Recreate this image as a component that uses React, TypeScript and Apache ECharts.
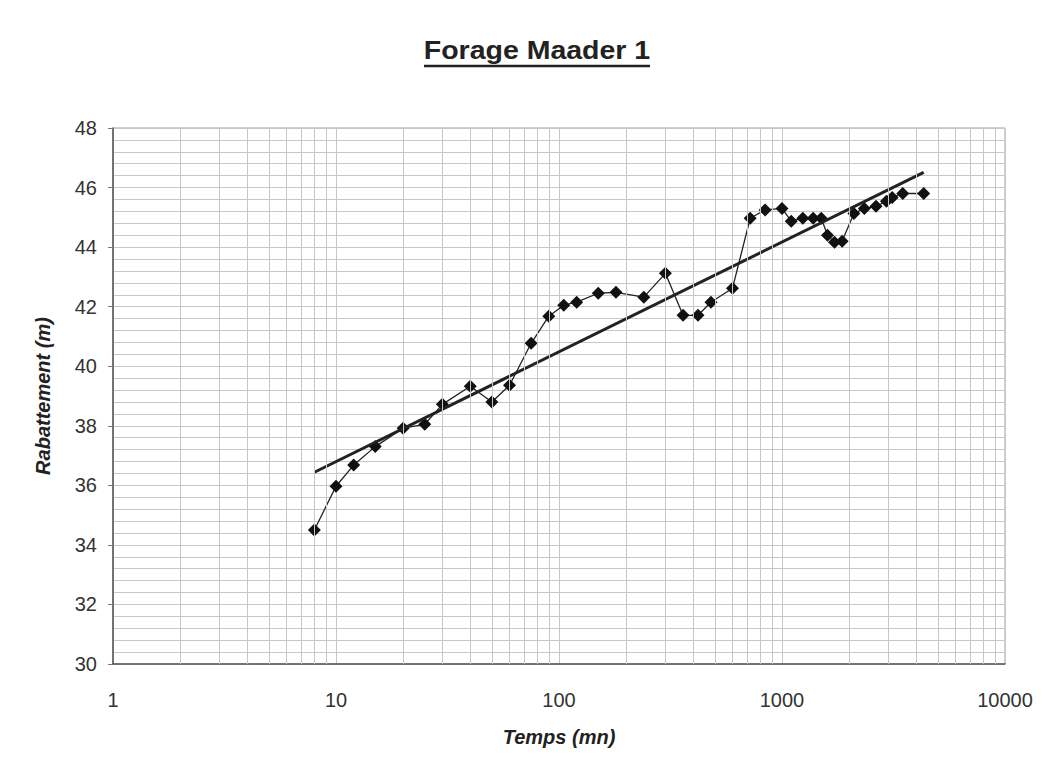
import React, { useEffect, useRef } from "react";
import * as echarts from "echarts";

const titleText = "Forage Maader 1";
const xAxisName = "Temps (mn)";
const yAxisName = "Rabattement (m)";

const times = [8, 10, 12, 15, 20, 25, 30, 40, 50, 60, 75, 90, 105, 120, 150, 180, 240, 300, 360, 420, 480, 600, 720, 840, 1000, 1100, 1240, 1380, 1500, 1600, 1720, 1860, 2100, 2340, 2640, 2940, 3120, 3480, 4320];
const drawdown = [34.5, 35.97, 36.68, 37.3, 37.92, 38.05, 38.72, 39.33, 38.8, 39.36, 40.77, 41.68, 42.05, 42.15, 42.45, 42.48, 42.32, 43.12, 41.71, 41.71, 42.15, 42.62, 44.97, 45.25, 45.3, 44.87, 44.97, 44.97, 44.97, 44.4, 44.16, 44.2, 45.13, 45.3, 45.37, 45.54, 45.67, 45.8, 45.8];

const trendTimes = [8, 4320];
const trendValues = [36.44, 46.51];

const minorXTicks = [2, 3, 4, 5, 6, 7, 8, 9, 20, 30, 40, 50, 60, 70, 80, 90, 200, 300, 400, 500, 600, 700, 800, 900, 2000, 3000, 4000, 5000, 6000, 7000, 8000, 9000];

const FONT = "'Liberation Sans', Arial, sans-serif";
const GRID_COLOR = "#c3c8cd";

export default function App() {
  const ref = useRef<HTMLDivElement>(null);
  useEffect(() => {
    document.body.style.margin = "0";
    const chart = echarts.init(ref.current!, null, { renderer: "svg" });
    chart.setOption({
      animation: false,
      backgroundColor: "#ffffff",
      grid: {
        left: 113,
        right: 47,
        top: 128,
        bottom: 111,
        show: true,
        borderColor: "#a0a0a0",
        borderWidth: 1,
      },
      graphic: [
        {
          type: "text",
          x: 537,
          y: 51,
          scaleX: 1.14,
          style: {
            text: titleText,
            font: `bold 25px ${FONT}`,
            fill: "#222",
            textAlign: "center",
            textVerticalAlign: "middle",
          },
        },
        {
          type: "line",
          shape: { x1: 424, y1: 66, x2: 650, y2: 66 },
          style: { stroke: "#222", lineWidth: 2.5 },
        },
      ],
      xAxis: {
        type: "log",
        logBase: 10,
        min: 1,
        max: 10000,
        name: xAxisName,
        nameLocation: "middle",
        nameGap: 63,
        nameTextStyle: {
          fontFamily: FONT,
          fontSize: 20,
          fontWeight: "bold",
          fontStyle: "italic",
          color: "#222",
        },
        axisLine: { show: true, lineStyle: { color: "#555", width: 1.5 } },
        axisTick: { show: false },
        axisLabel: {
          margin: 26,
          fontFamily: FONT,
          fontSize: 20,
          color: "#333",
          formatter: (v: number) => String(Math.round(v)),
        },
        splitLine: { show: true, lineStyle: { color: GRID_COLOR, width: 1 } },
      },
      yAxis: {
        type: "value",
        min: 30,
        max: 48,
        interval: 2,
        name: yAxisName,
        nameLocation: "middle",
        nameGap: 60,
        nameTextStyle: {
          fontFamily: FONT,
          fontSize: 20,
          fontWeight: "bold",
          fontStyle: "italic",
          color: "#222",
        },
        axisLine: { show: true, lineStyle: { color: "#555", width: 1.5 } },
        axisTick: { show: true, length: 5, lineStyle: { color: "#777" } },
        axisLabel: {
          margin: 16,
          fontFamily: FONT,
          fontSize: 20,
          color: "#333",
        },
        splitLine: { show: true, lineStyle: { color: GRID_COLOR, width: 1 } },
        minorTick: { show: false, splitNumber: 5 },
        minorSplitLine: { show: true, lineStyle: { color: GRID_COLOR, width: 1 } },
      },
      series: [
        {
          type: "line",
          name: "grid",
          z: 1,
          data: trendTimes.map((t, i) => [t, trendValues[i]]),
          showSymbol: false,
          symbol: "none",
          lineStyle: { opacity: 0, width: 0 },
          silent: true,
          markLine: {
            silent: true,
            symbol: "none",
            label: { show: false },
            lineStyle: { color: GRID_COLOR, width: 1, type: "solid" },
            data: minorXTicks.map((v) => ({ xAxis: v })),
          },
        },
        {
          type: "line",
          name: "Rabattement",
          z: 3,
          data: times.map((t, i) => [t, drawdown[i]]),
          symbol: "diamond",
          symbolSize: 13,
          itemStyle: { color: "#111" },
          lineStyle: { color: "#222", width: 1.3 },
        },
        {
          type: "line",
          name: "Tendance",
          z: 4,
          data: trendTimes.map((t, i) => [t, trendValues[i]]),
          showSymbol: false,
          symbol: "none",
          lineStyle: { color: "#222", width: 3 },
        },
      ],
    });
    return () => chart.dispose();
  }, []);
  return (
    <div
      ref={ref}
      style={{ position: "fixed", left: 0, top: 0, width: 1052, height: 775 }}
    />
  );
}
